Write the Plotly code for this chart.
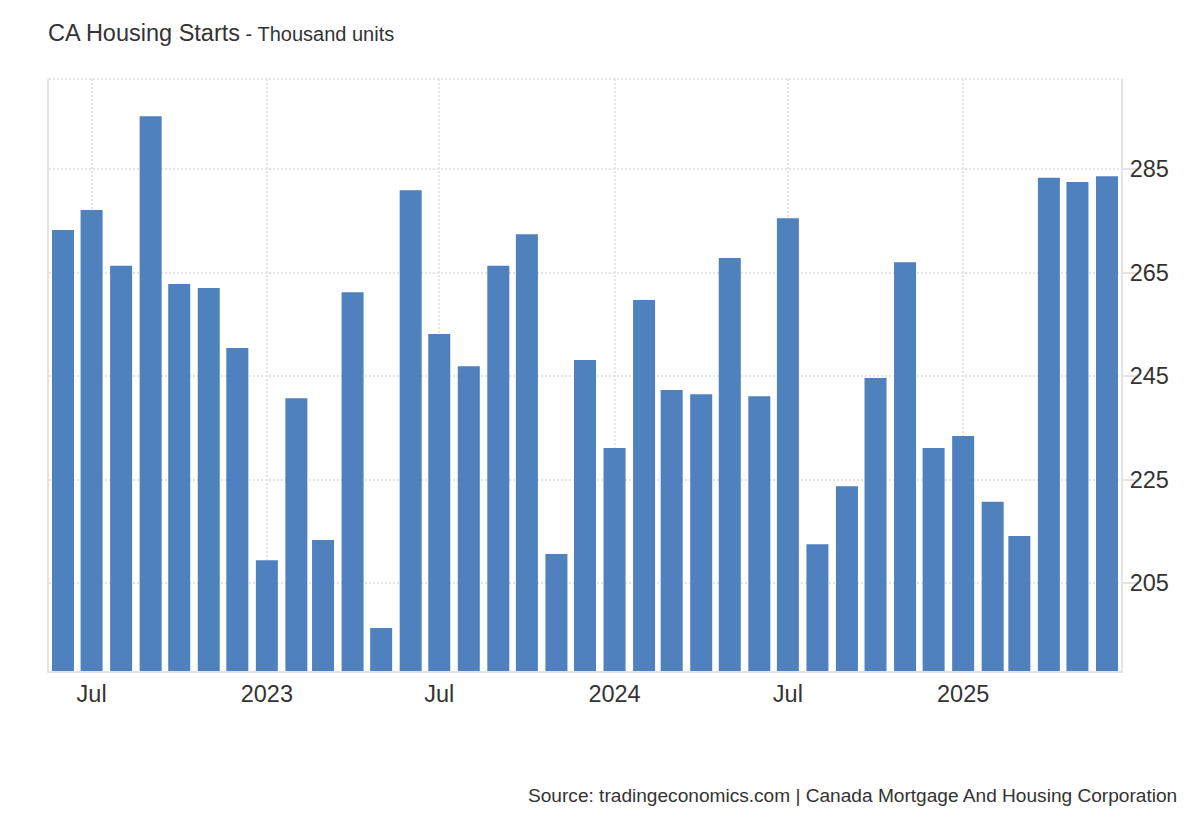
import plotly.graph_objects as go

# ---- data ----
months = [
    "2022-06-01", "2022-07-01", "2022-08-01", "2022-09-01", "2022-10-01", "2022-11-01", "2022-12-01",
    "2023-01-01", "2023-02-01", "2023-03-01", "2023-04-01", "2023-05-01", "2023-06-01",
    "2023-07-01", "2023-08-01", "2023-09-01", "2023-10-01", "2023-11-01", "2023-12-01",
    "2024-01-01", "2024-02-01", "2024-03-01", "2024-04-01", "2024-05-01", "2024-06-01",
    "2024-07-01", "2024-08-01", "2024-09-01", "2024-10-01", "2024-11-01", "2024-12-01",
    "2025-01-01", "2025-02-01", "2025-03-01", "2025-04-01", "2025-05-01", "2025-06-01",
]
housing_starts = [
    273.2, 277.1, 266.3, 295.2, 262.8, 262.0, 250.4,
    209.4, 240.7, 213.3, 261.2, 196.3, 280.9,
    253.1, 246.9, 266.3, 272.4, 210.6, 248.1,
    231.1, 259.7, 242.3, 241.5, 267.8, 241.1,
    275.5, 212.5, 223.7, 244.6, 267.0, 231.1,
    233.4, 220.7, 214.1, 283.3, 282.5, 283.6,
]
x_tick_vals = ["2022-07-01", "2023-01-01", "2023-07-01", "2024-01-01", "2024-07-01", "2025-01-01"]
x_tick_text = ["Jul", "2023", "Jul", "2024", "Jul", "2025"]
y_tick_vals = [205, 225, 245, 265, 285]

title_main = "CA Housing Starts"
title_sub = " - Thousand units"
source_text = "Source: tradingeconomics.com | Canada Mortgage And Housing Corporation"

# ---- styling ----
BAR = "#4e81bd"
GRID = "#e3e3e3"
AXIS = "#e3e3e3"
TXT = "#333333"
FONT = "Liberation Sans, Arial, sans-serif"
DAY_MS = 86400000

fig = go.Figure(
    go.Bar(
        x=months,
        y=housing_starts,
        marker=dict(color=BAR, line=dict(width=0)),
        width=[23.1 * DAY_MS] * len(months),
        hoverinfo="skip",
    )
)

fig.update_layout(
    width=1200,
    height=820,
    autosize=False,
    margin=dict(l=49, r=79, t=79, b=149, pad=0),
    paper_bgcolor="white",
    plot_bgcolor="white",
    showlegend=False,
    font=dict(family=FONT, color=TXT),
    xaxis=dict(
        type="date",
        range=["2022-05-17 07:00", "2025-06-15 17:00"],
        tickmode="array",
        tickvals=x_tick_vals,
        ticktext=x_tick_text,
        tickfont=dict(size=23.5, color=TXT, family=FONT),
        showgrid=True,
        gridcolor=GRID,
        gridwidth=2,
        griddash="2px,2px",
        showline=True,
        linecolor=AXIS,
        linewidth=2,
        ticks="",
        ticklabelstandoff=1,
        zeroline=False,
        fixedrange=True,
    ),
    yaxis=dict(
        side="right",
        range=[188.0, 302.4],
        tickmode="array",
        tickvals=y_tick_vals,
        tickfont=dict(size=23.5, color=TXT, family=FONT),
        showgrid=True,
        gridcolor=GRID,
        gridwidth=2,
        griddash="2px,2px",
        showline=True,
        mirror=True,
        linecolor=AXIS,
        linewidth=2,
        ticks="outside",
        ticklen=14,
        tickwidth=2,
        tickcolor=AXIS,
        ticklabelstandoff=-12,
        zeroline=False,
        fixedrange=True,
    ),
    shapes=[
        dict(type="line", xref="paper", yref="paper", x0=0, x1=1, y0=1, y1=1,
             line=dict(color=GRID, width=2, dash="2px,2px")),
    ],
    annotations=[
        dict(
            xref="paper", yref="paper", x=-0.0028, y=1.0777,
            xanchor="left", yanchor="middle", showarrow=False,
            text=title_main + "<span style='font-size:20px'>" + title_sub + "</span>",
            font=dict(size=23.5, color=TXT, family=FONT),
        ),
        dict(
            xref="paper", yref="paper", x=1.0541, y=-0.2111,
            xanchor="right", yanchor="middle", showarrow=False,
            text=source_text,
            font=dict(size=19.1, color=TXT, family=FONT),
        ),
    ],
)

fig.write_html("out.html")
